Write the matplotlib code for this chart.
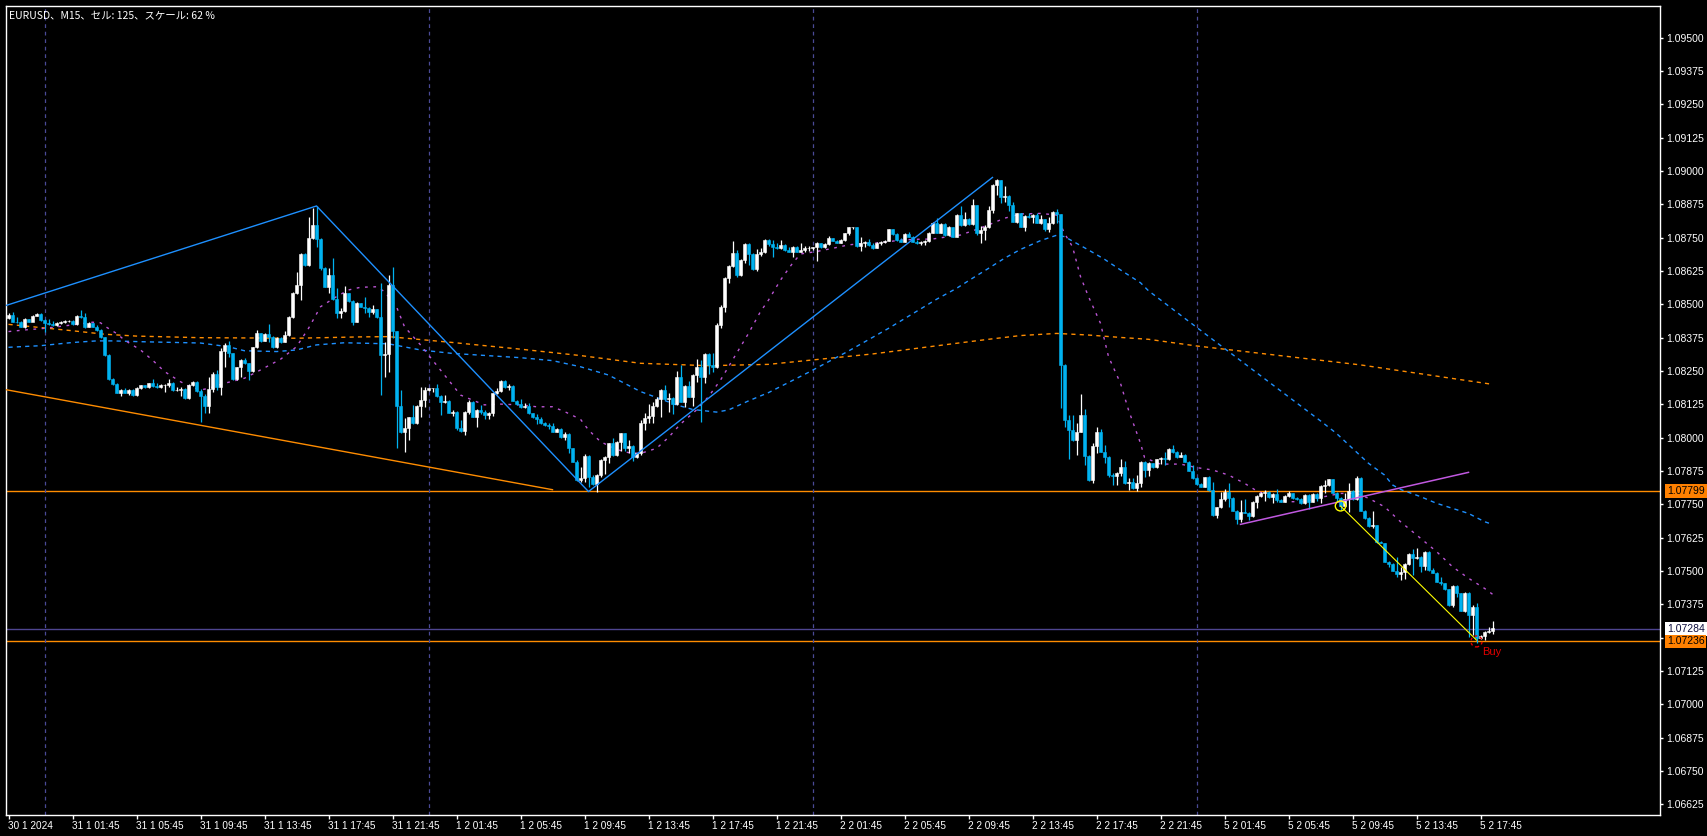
import numpy as np
import matplotlib
matplotlib.use("Agg")
import matplotlib.pyplot as plt
import matplotlib.transforms as mtransforms
from matplotlib.patches import Ellipse

plt.rcParams['font.family'] = ['Liberation Sans', 'DejaVu Sans']

# ---- EURUSD M15 candles (bar 0 = 30 1 21:45) ----
first_open = 1.08448
closes = [
    1.08460, 1.08435, 1.08433, 1.08416, 1.08444, 1.08435, 1.08456, 1.08464, 1.08441, 1.08431,
    1.08426, 1.08421, 1.08431, 1.08433, 1.08438, 1.08439, 1.08425, 1.08456, 1.08451, 1.08416,
    1.08429, 1.08416, 1.08404, 1.08376, 1.08310, 1.08219, 1.08201, 1.08169, 1.08179, 1.08169,
    1.08179, 1.08160, 1.08185, 1.08196, 1.08189, 1.08204, 1.08194, 1.08189, 1.08196, 1.08196,
    1.08206, 1.08179, 1.08179, 1.08184, 1.08148, 1.08198, 1.08209, 1.08175, 1.08156, 1.08119,
    1.08181, 1.08239, 1.08189, 1.08324, 1.08347, 1.08316, 1.08219, 1.08264, 1.08291, 1.08279,
    1.08250, 1.08339, 1.08391, 1.08364, 1.08389, 1.08376, 1.08339, 1.08375, 1.08360, 1.08385,
    1.08454, 1.08541, 1.08573, 1.08689, 1.08648, 1.08748, 1.08798, 1.08744, 1.08635, 1.08566,
    1.08610, 1.08519, 1.08466, 1.08476, 1.08541, 1.08514, 1.08435, 1.08504, 1.08491, 1.08485,
    1.08473, 1.08481, 1.08451, 1.08310, 1.08314, 1.08573, 1.08401, 1.08119, 1.08023, 1.08035,
    1.08077, 1.08054, 1.08119, 1.08141, 1.08179, 1.08185, 1.08185, 1.08156, 1.08135, 1.08139,
    1.08094, 1.08098, 1.08038, 1.08026, 1.08096, 1.08134, 1.08079, 1.08104, 1.08098, 1.08085,
    1.08094, 1.08166, 1.08176, 1.08214, 1.08189, 1.08194, 1.08139, 1.08126, 1.08114, 1.08119,
    1.08091, 1.08076, 1.08070, 1.08054, 1.08046, 1.08044, 1.08023, 1.08034, 1.08001, 1.08014,
    1.07960, 1.07910, 1.07841, 1.07848, 1.07931, 1.07854, 1.07826, 1.07860, 1.07916, 1.07929,
    1.07979, 1.07935, 1.07985, 1.08016, 1.07960, 1.07969, 1.07926, 1.07941, 1.08056, 1.08073,
    1.08081, 1.08119, 1.08144, 1.08179, 1.08144, 1.08148, 1.08126, 1.08229, 1.08135, 1.08194,
    1.08154, 1.08236, 1.08266, 1.08229, 1.08314, 1.08273, 1.08264, 1.08423, 1.08489, 1.08598,
    1.08644, 1.08694, 1.08610, 1.08666, 1.08726, 1.08689, 1.08631, 1.08689, 1.08698, 1.08741,
    1.08728, 1.08716, 1.08710, 1.08723, 1.08704, 1.08698, 1.08716, 1.08698, 1.08704, 1.08710,
    1.08712, 1.08714, 1.08731, 1.08714, 1.08726, 1.08748, 1.08739, 1.08731, 1.08741, 1.08766,
    1.08789, 1.08791, 1.08719, 1.08731, 1.08735, 1.08723, 1.08710, 1.08731, 1.08735, 1.08739,
    1.08781, 1.08764, 1.08741, 1.08735, 1.08764, 1.08754, 1.08735, 1.08729, 1.08735, 1.08739,
    1.08769, 1.08806, 1.08769, 1.08801, 1.08760, 1.08789, 1.08754, 1.08835, 1.08798, 1.08819,
    1.08801, 1.08873, 1.08766, 1.08779, 1.08789, 1.08854, 1.08948, 1.08966, 1.08904, 1.08906,
    1.08873, 1.08810, 1.08841, 1.08791, 1.08831, 1.08826, 1.08835, 1.08806, 1.08819, 1.08781,
    1.08804, 1.08848, 1.08838, 1.08273, 1.08066, 1.08029, 1.07991, 1.08023, 1.08085, 1.07931,
    1.07841, 1.07969, 1.08023, 1.07948, 1.07926, 1.07860, 1.07856, 1.07869, 1.07891, 1.07829,
    1.07835, 1.07810, 1.07831, 1.07909, 1.07879, 1.07904, 1.07889, 1.07919, 1.07923, 1.07919,
    1.07956, 1.07948, 1.07926, 1.07935, 1.07910, 1.07876, 1.07848, 1.07826, 1.07816, 1.07851,
    1.07804, 1.07710, 1.07739, 1.07769, 1.07798, 1.07773, 1.07726, 1.07694, 1.07723, 1.07719,
    1.07706, 1.07760, 1.07781, 1.07791, 1.07798, 1.07776, 1.07789, 1.07766, 1.07760, 1.07781,
    1.07791, 1.07773, 1.07769, 1.07754, 1.07785, 1.07760, 1.07789, 1.07773, 1.07819, 1.07823,
    1.07844, 1.07794, 1.07773, 1.07744, 1.07769, 1.07801, 1.07769, 1.07848, 1.07726, 1.07698,
    1.07669, 1.07672, 1.07610, 1.07606, 1.07535, 1.07526, 1.07501, 1.07489, 1.07498, 1.07526,
    1.07564, 1.07548, 1.07554, 1.07519, 1.07571, 1.07504, 1.07494, 1.07460, 1.07454, 1.07431,
    1.07373, 1.07444, 1.07416, 1.07351, 1.07419, 1.07335, 1.07366, 1.07248, 1.07256, 1.07273,
    1.07276, 1.07285,
]
highs = [
    1.08466, 1.08473, 1.08451, 1.08439, 1.08448, 1.08446, 1.08459, 1.08466, 1.08466, 1.08444,
    1.08444, 1.08439, 1.08435, 1.08439, 1.08441, 1.08441, 1.08441, 1.08459, 1.08479, 1.08466,
    1.08434, 1.08431, 1.08421, 1.08406, 1.08379, 1.08314, 1.08223, 1.08204, 1.08181, 1.08186,
    1.08181, 1.08184, 1.08189, 1.08199, 1.08199, 1.08206, 1.08221, 1.08204, 1.08201, 1.08200,
    1.08219, 1.08210, 1.08189, 1.08191, 1.08185, 1.08201, 1.08214, 1.08211, 1.08181, 1.08164,
    1.08229, 1.08248, 1.08254, 1.08335, 1.08354, 1.08364, 1.08319, 1.08266, 1.08294, 1.08298,
    1.08281, 1.08341, 1.08404, 1.08394, 1.08394, 1.08426, 1.08381, 1.08379, 1.08379, 1.08401,
    1.08456, 1.08548, 1.08623, 1.08694, 1.08691, 1.08829, 1.08860, 1.08869, 1.08748, 1.08639,
    1.08635, 1.08673, 1.08560, 1.08485, 1.08569, 1.08544, 1.08516, 1.08510, 1.08506, 1.08526,
    1.08491, 1.08498, 1.08484, 1.08579, 1.08360, 1.08610, 1.08641, 1.08401, 1.08179, 1.08073,
    1.08079, 1.08123, 1.08121, 1.08189, 1.08191, 1.08188, 1.08188, 1.08201, 1.08159, 1.08160,
    1.08141, 1.08104, 1.08100, 1.08066, 1.08099, 1.08141, 1.08136, 1.08106, 1.08123, 1.08104,
    1.08098, 1.08169, 1.08185, 1.08216, 1.08216, 1.08201, 1.08199, 1.08141, 1.08144, 1.08131,
    1.08131, 1.08094, 1.08089, 1.08076, 1.08059, 1.08056, 1.08054, 1.08036, 1.08036, 1.08023,
    1.08016, 1.07960, 1.07916, 1.07891, 1.07939, 1.07934, 1.07859, 1.07864, 1.07919, 1.07931,
    1.07981, 1.07998, 1.07988, 1.08019, 1.08016, 1.07991, 1.07971, 1.07944, 1.08066, 1.08091,
    1.08126, 1.08135, 1.08154, 1.08181, 1.08198, 1.08166, 1.08151, 1.08251, 1.08273, 1.08196,
    1.08214, 1.08239, 1.08294, 1.08291, 1.08316, 1.08316, 1.08316, 1.08431, 1.08498, 1.08601,
    1.08648, 1.08739, 1.08704, 1.08669, 1.08729, 1.08731, 1.08694, 1.08706, 1.08710, 1.08744,
    1.08744, 1.08741, 1.08729, 1.08741, 1.08725, 1.08716, 1.08719, 1.08719, 1.08729, 1.08719,
    1.08719, 1.08716, 1.08734, 1.08731, 1.08729, 1.08756, 1.08750, 1.08743, 1.08744, 1.08769,
    1.08791, 1.08791, 1.08791, 1.08751, 1.08739, 1.08744, 1.08729, 1.08734, 1.08739, 1.08741,
    1.08784, 1.08784, 1.08766, 1.08748, 1.08766, 1.08773, 1.08756, 1.08741, 1.08739, 1.08741,
    1.08771, 1.08809, 1.08823, 1.08804, 1.08804, 1.08794, 1.08791, 1.08838, 1.08869, 1.08848,
    1.08825, 1.08894, 1.08873, 1.08794, 1.08798, 1.08869, 1.08950, 1.08969, 1.08966, 1.08944,
    1.08909, 1.08883, 1.08844, 1.08844, 1.08834, 1.08844, 1.08838, 1.08844, 1.08835, 1.08819,
    1.08826, 1.08850, 1.08856, 1.08838, 1.08276, 1.08085, 1.08085, 1.08056, 1.08164, 1.08109,
    1.07935, 1.07979, 1.08039, 1.08031, 1.07973, 1.07931, 1.07866, 1.07871, 1.07921, 1.07913,
    1.07848, 1.07848, 1.07860, 1.07911, 1.07911, 1.07909, 1.07906, 1.07921, 1.07926, 1.07948,
    1.07960, 1.07973, 1.07951, 1.07948, 1.07939, 1.07914, 1.07898, 1.07851, 1.07831, 1.07854,
    1.07856, 1.07835, 1.07741, 1.07798, 1.07806, 1.07829, 1.07776, 1.07729, 1.07766, 1.07769,
    1.07723, 1.07763, 1.07784, 1.07798, 1.07804, 1.07801, 1.07791, 1.07806, 1.07769, 1.07784,
    1.07801, 1.07791, 1.07779, 1.07773, 1.07788, 1.07788, 1.07791, 1.07791, 1.07821, 1.07841,
    1.07846, 1.07846, 1.07796, 1.07779, 1.07791, 1.07829, 1.07804, 1.07856, 1.07851, 1.07729,
    1.07701, 1.07726, 1.07674, 1.07614, 1.07604, 1.07539, 1.07529, 1.07551, 1.07516, 1.07529,
    1.07566, 1.07581, 1.07585, 1.07556, 1.07574, 1.07574, 1.07510, 1.07496, 1.07479, 1.07456,
    1.07433, 1.07446, 1.07448, 1.07419, 1.07421, 1.07422, 1.07373, 1.07381, 1.07259, 1.07276,
    1.07289, 1.07312,
]
lows = [
    1.08444, 1.08433, 1.08429, 1.08414, 1.08410, 1.08433, 1.08436, 1.08456, 1.08439, 1.08398,
    1.08423, 1.08419, 1.08419, 1.08426, 1.08429, 1.08434, 1.08423, 1.08423, 1.08448, 1.08410,
    1.08414, 1.08414, 1.08401, 1.08374, 1.08308, 1.08216, 1.08198, 1.08166, 1.08156, 1.08166,
    1.08160, 1.08158, 1.08158, 1.08183, 1.08186, 1.08186, 1.08191, 1.08186, 1.08185, 1.08173,
    1.08189, 1.08176, 1.08175, 1.08156, 1.08145, 1.08145, 1.08194, 1.08171, 1.08060, 1.08091,
    1.08091, 1.08173, 1.08179, 1.08160, 1.08266, 1.08304, 1.08216, 1.08216, 1.08229, 1.08276,
    1.08216, 1.08248, 1.08336, 1.08360, 1.08364, 1.08360, 1.08336, 1.08335, 1.08356, 1.08358,
    1.08381, 1.08448, 1.08539, 1.08516, 1.08644, 1.08644, 1.08744, 1.08716, 1.08629, 1.08564,
    1.08541, 1.08516, 1.08448, 1.08448, 1.08473, 1.08510, 1.08423, 1.08433, 1.08489, 1.08469,
    1.08451, 1.08464, 1.08449, 1.08160, 1.08229, 1.08248, 1.08373, 1.07960, 1.08016, 1.07948,
    1.07991, 1.08051, 1.08051, 1.08079, 1.08116, 1.08175, 1.08173, 1.08154, 1.08085, 1.08131,
    1.08091, 1.08083, 1.08029, 1.08021, 1.08010, 1.08089, 1.08076, 1.08041, 1.08089, 1.08070,
    1.08069, 1.08083, 1.08164, 1.08173, 1.08186, 1.08179, 1.08136, 1.08124, 1.08111, 1.08111,
    1.08089, 1.08074, 1.08051, 1.08051, 1.08044, 1.08033, 1.08021, 1.08021, 1.07999, 1.07991,
    1.07941, 1.07907, 1.07839, 1.07835, 1.07835, 1.07814, 1.07824, 1.07798, 1.07854, 1.07864,
    1.07904, 1.07933, 1.07933, 1.07951, 1.07951, 1.07944, 1.07914, 1.07924, 1.07935, 1.08029,
    1.08054, 1.08054, 1.08114, 1.08076, 1.08141, 1.08098, 1.08089, 1.08124, 1.08133, 1.08116,
    1.08151, 1.08119, 1.08210, 1.08060, 1.08204, 1.08239, 1.08248, 1.08260, 1.08410, 1.08473,
    1.08581, 1.08641, 1.08604, 1.08606, 1.08654, 1.08648, 1.08629, 1.08626, 1.08681, 1.08694,
    1.08720, 1.08679, 1.08708, 1.08706, 1.08701, 1.08695, 1.08679, 1.08695, 1.08695, 1.08698,
    1.08701, 1.08704, 1.08664, 1.08711, 1.08711, 1.08724, 1.08736, 1.08729, 1.08729, 1.08739,
    1.08759, 1.08784, 1.08716, 1.08701, 1.08714, 1.08720, 1.08708, 1.08711, 1.08724, 1.08729,
    1.08736, 1.08761, 1.08739, 1.08733, 1.08733, 1.08751, 1.08733, 1.08726, 1.08723, 1.08724,
    1.08734, 1.08766, 1.08766, 1.08766, 1.08758, 1.08758, 1.08751, 1.08751, 1.08795, 1.08795,
    1.08799, 1.08799, 1.08760, 1.08731, 1.08741, 1.08785, 1.08841, 1.08910, 1.08881, 1.08885,
    1.08851, 1.08808, 1.08804, 1.08789, 1.08776, 1.08823, 1.08804, 1.08804, 1.08801, 1.08776,
    1.08773, 1.08801, 1.08806, 1.08110, 1.08039, 1.07919, 1.07989, 1.07935, 1.08020, 1.07898,
    1.07839, 1.07829, 1.07941, 1.07945, 1.07906, 1.07854, 1.07823, 1.07823, 1.07856, 1.07826,
    1.07804, 1.07808, 1.07801, 1.07816, 1.07854, 1.07856, 1.07886, 1.07886, 1.07901, 1.07898,
    1.07916, 1.07944, 1.07924, 1.07926, 1.07908, 1.07874, 1.07844, 1.07824, 1.07814, 1.07814,
    1.07801, 1.07706, 1.07698, 1.07736, 1.07764, 1.07741, 1.07724, 1.07676, 1.07685, 1.07716,
    1.07691, 1.07703, 1.07735, 1.07779, 1.07764, 1.07774, 1.07754, 1.07760, 1.07758, 1.07758,
    1.07779, 1.07771, 1.07766, 1.07751, 1.07751, 1.07731, 1.07758, 1.07764, 1.07754, 1.07794,
    1.07819, 1.07791, 1.07761, 1.07729, 1.07741, 1.07723, 1.07766, 1.07766, 1.07724, 1.07695,
    1.07666, 1.07660, 1.07606, 1.07604, 1.07533, 1.07515, 1.07499, 1.07479, 1.07466, 1.07469,
    1.07521, 1.07485, 1.07546, 1.07498, 1.07504, 1.07501, 1.07491, 1.07458, 1.07448, 1.07429,
    1.07370, 1.07366, 1.07404, 1.07349, 1.07346, 1.07254, 1.07260, 1.07229, 1.07246, 1.07241,
    1.07266, 1.07264,
]

# moving averages (bar, value)
ma_slow_bar = [0, 8, 16, 24, 32, 48, 72, 88, 95, 111, 128, 143, 158, 175, 190, 216, 237, 245,
               253, 262, 270, 278, 285, 297, 338, 371]
ma_slow = [1.08425, 1.08413, 1.08401, 1.08388, 1.08381, 1.08375, 1.08373, 1.08378, 1.08379,
           1.08357, 1.08332, 1.08308, 1.08279, 1.08270, 1.08275, 1.08314, 1.08354, 1.08369,
           1.08383, 1.08391, 1.08385, 1.08376, 1.08369, 1.08344, 1.08273, 1.08200]

ma_mid_bar = [0, 8, 16, 22, 26, 33, 48, 55, 59, 67, 72, 77, 84, 95, 103, 111, 128, 136, 143, 150,
              158, 167, 171, 177, 180, 185, 190, 200, 210, 220, 232, 237, 241, 245, 249, 253, 258,
              262, 264, 270, 274, 278, 283, 285, 300, 315, 328, 332, 340, 344, 346, 348, 353, 357,
              361, 365, 369, 371]
ma_mid = [1.08339, 1.08345, 1.08357, 1.08363, 1.08363, 1.08360, 1.08355, 1.08341, 1.08326, 1.08323,
          1.08329, 1.08348, 1.08356, 1.08352, 1.08329, 1.08316, 1.08300, 1.08289, 1.08266, 1.08235,
          1.08173, 1.08123, 1.08106, 1.08096, 1.08104, 1.08138, 1.08169, 1.08245, 1.08325, 1.08410,
          1.08519, 1.08560, 1.08598, 1.08635, 1.08673, 1.08706, 1.08739, 1.08759, 1.08754, 1.08704,
          1.08669, 1.08629, 1.08581, 1.08551, 1.08380, 1.08210, 1.08063, 1.08016, 1.07904, 1.07860,
          1.07823, 1.07806, 1.07779, 1.07754, 1.07735, 1.07716, 1.07685, 1.07675]

ma_fast_bar = [0, 4, 9, 16, 21, 23, 24, 27, 29, 33, 36, 39, 43, 45, 48, 50, 54, 59, 63, 68,
               72, 75, 78, 82, 85, 88, 92, 94, 97, 99, 103, 106, 109, 113, 116, 119, 123, 128, 132, 136,
               139, 143, 145, 148, 152, 155, 158, 162, 165, 168, 172, 175, 178, 182, 185, 188, 190, 193,
               196, 198, 202, 206, 210, 214, 218, 223, 227, 231, 235, 238, 242, 245, 249, 253, 258, 262,
               264, 266, 268, 270, 273, 275, 278, 280, 283, 284, 285, 288, 293, 297, 301, 305, 309, 312,
               316, 320, 324, 328, 333, 337, 340, 344, 348, 353, 357, 361, 365, 369, 371]
ma_fast = [1.08398, 1.08404, 1.08410, 1.08423, 1.08433, 1.08431, 1.08419, 1.08391, 1.08366, 1.08329,
           1.08291, 1.08248, 1.08210, 1.08194, 1.08179, 1.08185, 1.08204, 1.08223, 1.08254, 1.08294,
           1.08341, 1.08410, 1.08491, 1.08529, 1.08554, 1.08564, 1.08566, 1.08548, 1.08491, 1.08416,
           1.08348, 1.08291, 1.08235, 1.08160, 1.08141, 1.08123, 1.08126, 1.08123, 1.08116, 1.08116,
           1.08098, 1.08069, 1.08029, 1.07985, 1.07956, 1.07944, 1.07941, 1.07960, 1.08001, 1.08051,
           1.08104, 1.08154, 1.08216, 1.08316, 1.08391, 1.08473, 1.08516, 1.08591, 1.08654, 1.08689,
           1.08698, 1.08710, 1.08723, 1.08729, 1.08731, 1.08741, 1.08744, 1.08745, 1.08754, 1.08760,
           1.08781, 1.08798, 1.08823, 1.08839, 1.08841, 1.08835, 1.08766, 1.08716, 1.08604, 1.08529,
           1.08429, 1.08304, 1.08204, 1.08104, 1.07979, 1.07926, 1.07919, 1.07901, 1.07901, 1.07888,
           1.07879, 1.07860, 1.07829, 1.07801, 1.07776, 1.07760, 1.07760, 1.07776, 1.07791, 1.07791,
           1.07773, 1.07741, 1.07685, 1.07623, 1.07573, 1.07516, 1.07473, 1.07435, 1.07413]

# drawn objects
zigzag_bar = [-1, 77, 145, 246]
zigzag = [1.08494, 1.08869, 1.07798, 1.08976]
trend_bar = [-1, 136]
trend = [1.08181, 1.07805]
wedge_bar = [308, 365]
wedge = [1.07675, 1.07870]
signal_bar = [333, 367]
signal = [1.07744, 1.07241]
level_high = 1.07799
level_bid = 1.07284
level_entry = 1.07236

day_breaks = [9, 105, 201, 297]
xtick_bar = list(range(0, 369, 16))
xtick_labels = ["30 1 2024", "31 1 01:45", "31 1 05:45", "31 1 09:45", "31 1 13:45", "31 1 17:45",
                "31 1 21:45", "1 2 01:45", "1 2 05:45", "1 2 09:45", "1 2 13:45", "1 2 17:45",
                "1 2 21:45", "2 2 01:45", "2 2 05:45", "2 2 09:45", "2 2 13:45", "2 2 17:45",
                "2 2 21:45", "5 2 01:45", "5 2 05:45", "5 2 09:45", "5 2 13:45", "5 2 17:45"]
ytick_vals = [1.06625 + 0.00125 * k for k in range(24)]

assert len(closes) == len(highs) == len(lows) == 372

BULL = 'white'
BEAR = '#00B2F0'
ORANGE = '#FF8C00'

fig = plt.figure(figsize=(17.07, 8.36), dpi=100, facecolor='black')
ax = fig.add_axes([5.5 / 1707, (836 - 814.5) / 836, 1654 / 1707, 809 / 836], facecolor='black')

opens = [first_open] + closes[:-1]
x = np.arange(len(closes))
o = np.array(opens)
c = np.array(closes)
up = c >= o
cols = np.where(up, BULL, BEAR)

ax.axhline(level_high, color=ORANGE, lw=1.0, zorder=1)
ax.axhline(level_bid, color='#4E4590', lw=1.0, zorder=1)
ax.axhline(level_entry, color=ORANGE, lw=1.0, zorder=1)
for d in day_breaks:
    ax.axvline(d, color='#4A4A96', lw=0.9, ls=(0, (3, 3)), zorder=1)

ax.plot(ma_slow_bar, ma_slow, color=ORANGE, lw=1.0, ls=(0, (3, 3)), zorder=2)
ax.plot(ma_mid_bar, ma_mid, color='#1E90FF', lw=1.0, ls=(0, (3, 3)), zorder=2)
ax.plot(ma_fast_bar, ma_fast, color='#BA55D3', lw=1.0, ls=(0, (2, 4)), zorder=2)

ax.vlines(x, lows, highs, colors=cols, lw=0.9, zorder=3)
ax.bar(x, np.abs(c - o), bottom=np.minimum(o, c), width=0.7, color=cols,
       edgecolor=cols, lw=0.4, zorder=4)

ax.plot(zigzag_bar, zigzag, color='#1E90FF', lw=1.0, zorder=5)
ax.plot(trend_bar, trend, color=ORANGE, lw=1.0, zorder=5)
ax.plot(wedge_bar, wedge, color='#C058E0', lw=1.1, zorder=5)
ax.plot(signal_bar, signal, color='#FFFF00', lw=0.8, zorder=5)

ax.add_patch(Ellipse((signal_bar[0], signal[0]), 2.6, 10 / 26667, fill=False,
                     ec='#FFFF00', lw=1.0, zorder=6))
ax.add_patch(Ellipse((signal_bar[1], level_entry), 2.8, 11 / 26667, fill=False,
                     ec='#E00000', lw=1.0, ls=(0, (2, 2)), zorder=6))
ax.text(368.3, 1.07198, 'Buy', color='#E00000', fontsize=8, ha='left', va='center', zorder=6)

ax.set_xlim(-0.75, 412.75)
ax.set_ylim(1.06587, 1.096207)

ax.set_xticks(xtick_bar)
ax.set_xticklabels(xtick_labels, ha='left')
ax.yaxis.tick_right()
ax.set_yticks(ytick_vals)
ax.set_yticklabels(['%.5f' % v for v in ytick_vals])
ax.tick_params(axis='x', length=3, width=1, color='white', labelcolor='white',
               labelsize=7.2, pad=1.5)
ax.tick_params(axis='y', length=2.5, width=1, color='white', labelcolor='white',
               labelsize=7.5, pad=2.5)
for s in ax.spines.values():
    s.set_color('white')
    s.set_linewidth(1.0)

tr = mtransforms.blended_transform_factory(ax.transAxes, ax.transData)
for val, fc, tc in [(level_high, '#FF8000', 'black'), (level_bid, 'white', '#101040'),
                    (level_entry, '#FF8000', 'black')]:
    ax.text(1.0045, val, '%.5f' % val, transform=tr, color=tc, fontsize=7.5,
            ha='left', va='center', clip_on=False, zorder=10,
            bbox=dict(boxstyle='square,pad=0.18', fc=fc, ec='none'))

fig.text(9 / 1707, 1 - 15 / 836, 'EURUSD、M15、セル: 125、スケール: 62 %', color='white',
         fontsize=7.5, ha='left', va='center', family=['Noto Sans CJK JP', 'DejaVu Sans'])

fig.savefig('out.png', dpi=100, facecolor='black')
